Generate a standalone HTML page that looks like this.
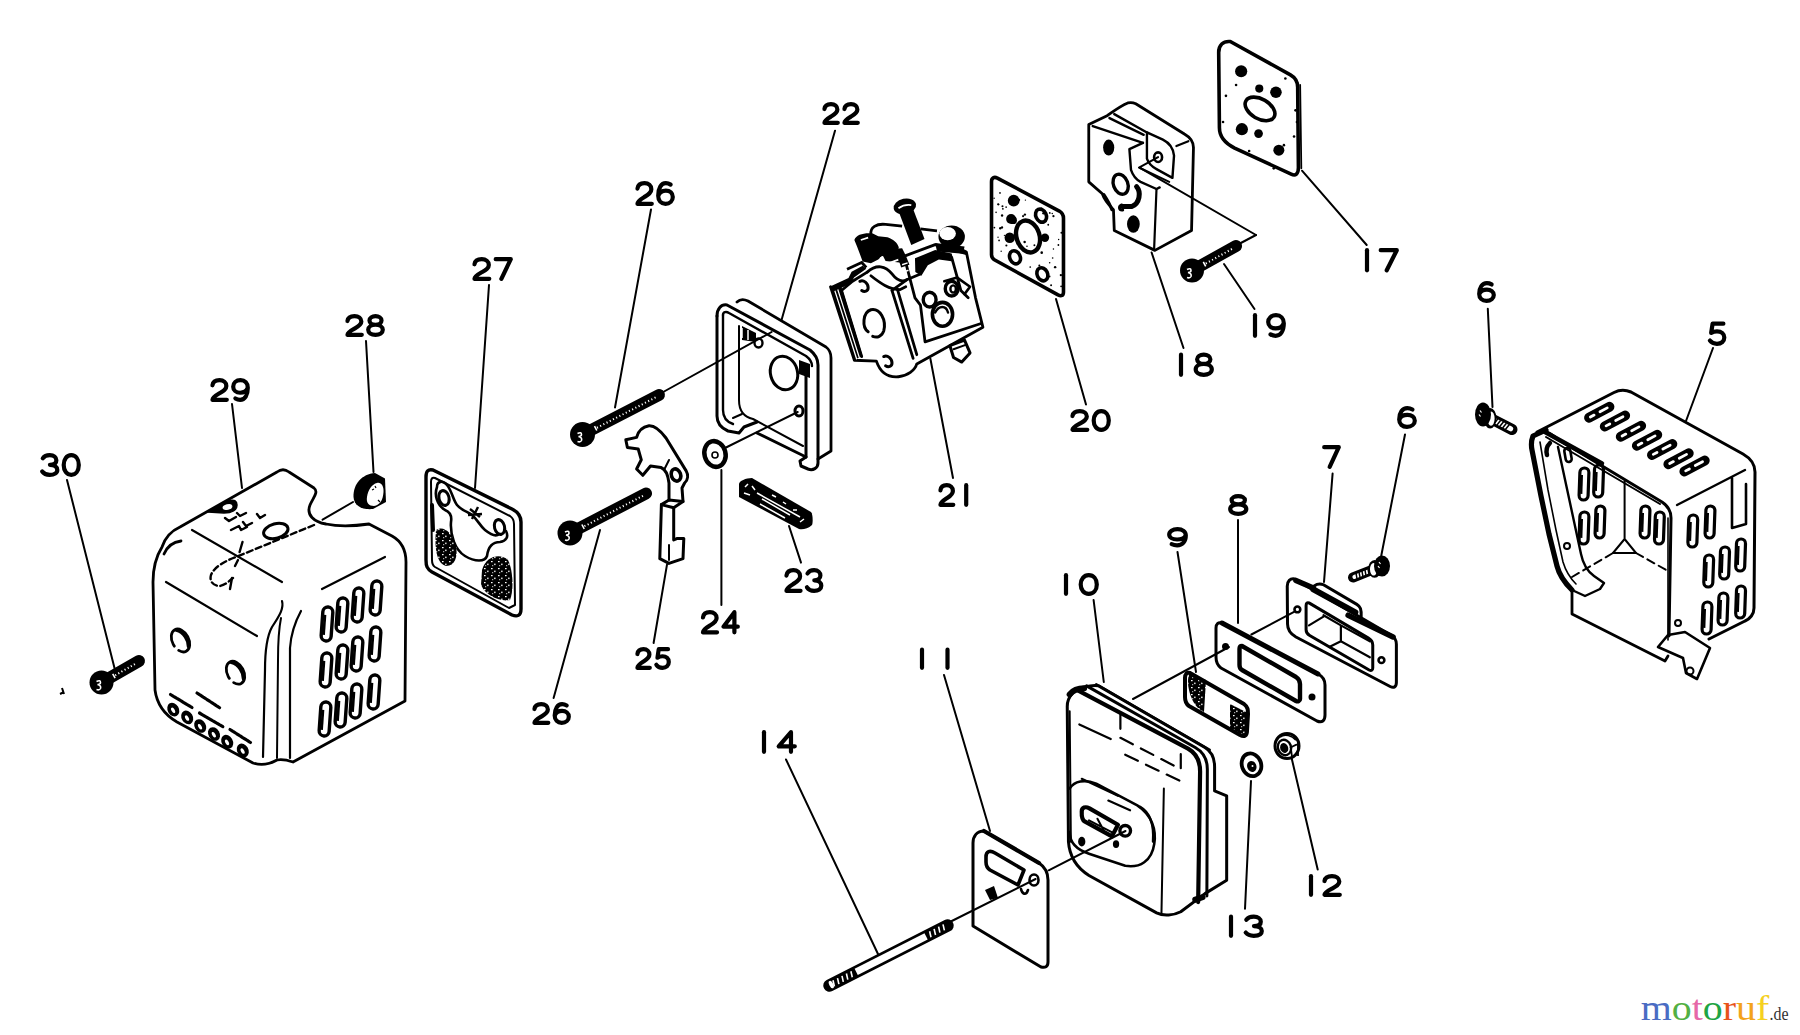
<!DOCTYPE html>
<html><head><meta charset="utf-8"><style>
html,body{margin:0;padding:0;background:#fff;}
svg{display:block;}
.wm{font-family:"Liberation Serif",serif;}
.ns path,.ns ellipse,.ns circle,.ns line,.ns rect{vector-effect:non-scaling-stroke;}
</style></head><body>
<svg width="1800" height="1035" viewBox="0 0 1800 1035">
<rect width="1800" height="1035" fill="#fff"/>
<g fill="none" stroke="#000" stroke-width="4.2" stroke-linecap="round" stroke-linejoin="round"><path transform="translate(42.20,455.20) scale(0.9437,0.9800)" vector-effect="non-scaling-stroke" d="M0.6,3.2 C2,1.2 4.6,0 8,0 C12.4,0 15,2.2 15,5.2 C15,8.2 12.2,9.8 8.2,9.8 C13,9.8 16,12 16,15 C16,18.2 12.8,20 8,20 C4.4,20 1.6,18.8 0,16.6" /><path transform="translate(63.70,455.20) scale(0.9437,0.9800)" vector-effect="non-scaling-stroke" d="M8,0 C12.8,0 16,4.2 16,10 C16,15.8 12.8,20 8,20 C3.2,20 0,15.8 0,10 C0,4.2 3.2,0 8,0 Z" /><path transform="translate(212.20,380.20) scale(0.9125,0.9800)" vector-effect="non-scaling-stroke" d="M0.3,5.2 C0.8,2 3.8,0 8,0 C12.5,0 15.5,2.4 15.5,5.8 C15.5,9.6 11.5,11.4 7.5,13.6 C3,16 0.5,17.6 0.3,20 L16,20" /><path transform="translate(233.20,380.20) scale(0.9125,0.9800)" vector-effect="non-scaling-stroke" d="M2.4,18.6 C4,19.5 5.8,20 7.6,20 C12.8,20 16,15.2 16,7.8 C16,3 12.8,0 8,0 C3.2,0 0,3 0,6.6 C0,10.2 3.2,12.8 7.6,12.8 C11.6,12.8 14.8,10.6 15.8,8" /><path transform="translate(347.20,316.20) scale(0.9125,0.9300)" vector-effect="non-scaling-stroke" d="M0.3,5.2 C0.8,2 3.8,0 8,0 C12.5,0 15.5,2.4 15.5,5.8 C15.5,9.6 11.5,11.4 7.5,13.6 C3,16 0.5,17.6 0.3,20 L16,20" /><path transform="translate(368.20,316.20) scale(0.9125,0.9300)" vector-effect="non-scaling-stroke" d="M8,9.2 C4.2,9.2 1.4,7.4 1.4,4.6 C1.4,1.8 4.2,0 8,0 C11.8,0 14.6,1.8 14.6,4.6 C14.6,7.4 11.8,9.2 8,9.2 C3.4,9.2 0,11.4 0,14.6 C0,17.8 3.4,20 8,20 C12.6,20 16,17.8 16,14.6 C16,11.4 12.6,9.2 8,9.2 Z" /><path transform="translate(474.20,259.20) scale(0.9437,0.9800)" vector-effect="non-scaling-stroke" d="M0.3,5.2 C0.8,2 3.8,0 8,0 C12.5,0 15.5,2.4 15.5,5.8 C15.5,9.6 11.5,11.4 7.5,13.6 C3,16 0.5,17.6 0.3,20 L16,20" /><path transform="translate(495.70,259.20) scale(0.9437,0.9800)" vector-effect="non-scaling-stroke" d="M0,0 L16,0 L6,20" /><path transform="translate(637.20,183.20) scale(0.9125,1.0300)" vector-effect="non-scaling-stroke" d="M0.3,5.2 C0.8,2 3.8,0 8,0 C12.5,0 15.5,2.4 15.5,5.8 C15.5,9.6 11.5,11.4 7.5,13.6 C3,16 0.5,17.6 0.3,20 L16,20" /><path transform="translate(658.20,183.20) scale(0.9125,1.0300)" vector-effect="non-scaling-stroke" d="M13.6,1.4 C12,0.5 10.2,0 8.4,0 C3.2,0 0,4.8 0,12.2 C0,17 3.2,20 8,20 C12.8,20 16,17 16,13.4 C16,9.8 12.8,7.2 8.4,7.2 C4.4,7.2 1.2,9.4 0.2,12" /><path transform="translate(534.20,704.20) scale(0.8812,0.9300)" vector-effect="non-scaling-stroke" d="M0.3,5.2 C0.8,2 3.8,0 8,0 C12.5,0 15.5,2.4 15.5,5.8 C15.5,9.6 11.5,11.4 7.5,13.6 C3,16 0.5,17.6 0.3,20 L16,20" /><path transform="translate(554.70,704.20) scale(0.8812,0.9300)" vector-effect="non-scaling-stroke" d="M13.6,1.4 C12,0.5 10.2,0 8.4,0 C3.2,0 0,4.8 0,12.2 C0,17 3.2,20 8,20 C12.8,20 16,17 16,13.4 C16,9.8 12.8,7.2 8.4,7.2 C4.4,7.2 1.2,9.4 0.2,12" /><path transform="translate(637.20,649.20) scale(0.7875,0.9300)" vector-effect="non-scaling-stroke" d="M0.3,5.2 C0.8,2 3.8,0 8,0 C12.5,0 15.5,2.4 15.5,5.8 C15.5,9.6 11.5,11.4 7.5,13.6 C3,16 0.5,17.6 0.3,20 L16,20" /><path transform="translate(656.20,649.20) scale(0.7875,0.9300)" vector-effect="non-scaling-stroke" d="M15,0 L3.2,0 L1.6,9.2 C3.4,8.2 5.6,7.6 8,7.6 C12.8,7.6 16,10 16,13.8 C16,17.6 12.8,20 8,20 C4.6,20 1.8,18.8 0.2,16.8" /><path transform="translate(702.70,612.20) scale(0.8969,1.0050)" vector-effect="non-scaling-stroke" d="M0.3,5.2 C0.8,2 3.8,0 8,0 C12.5,0 15.5,2.4 15.5,5.8 C15.5,9.6 11.5,11.4 7.5,13.6 C3,16 0.5,17.6 0.3,20 L16,20" /><path transform="translate(723.45,612.20) scale(0.8969,1.0050)" vector-effect="non-scaling-stroke" d="M12.2,20 L12.2,0 L0,14.4 L16,14.4" /><path transform="translate(786.20,570.20) scale(0.8969,1.0300)" vector-effect="non-scaling-stroke" d="M0.3,5.2 C0.8,2 3.8,0 8,0 C12.5,0 15.5,2.4 15.5,5.8 C15.5,9.6 11.5,11.4 7.5,13.6 C3,16 0.5,17.6 0.3,20 L16,20" /><path transform="translate(806.95,570.20) scale(0.8969,1.0300)" vector-effect="non-scaling-stroke" d="M0.6,3.2 C2,1.2 4.6,0 8,0 C12.4,0 15,2.2 15,5.2 C15,8.2 12.2,9.8 8.2,9.8 C13,9.8 16,12 16,15 C16,18.2 12.8,20 8,20 C4.4,20 1.6,18.8 0,16.6" /><path transform="translate(824.20,104.20) scale(0.8500,0.9300)" vector-effect="non-scaling-stroke" d="M0.3,5.2 C0.8,2 3.8,0 8,0 C12.5,0 15.5,2.4 15.5,5.8 C15.5,9.6 11.5,11.4 7.5,13.6 C3,16 0.5,17.6 0.3,20 L16,20" /><path transform="translate(844.20,104.20) scale(0.8500,0.9300)" vector-effect="non-scaling-stroke" d="M0.3,5.2 C0.8,2 3.8,0 8,0 C12.5,0 15.5,2.4 15.5,5.8 C15.5,9.6 11.5,11.4 7.5,13.6 C3,16 0.5,17.6 0.3,20 L16,20" /><path transform="translate(940.20,485.20) scale(0.8187,0.9800)" vector-effect="non-scaling-stroke" d="M0.3,5.2 C0.8,2 3.8,0 8,0 C12.5,0 15.5,2.4 15.5,5.8 C15.5,9.6 11.5,11.4 7.5,13.6 C3,16 0.5,17.6 0.3,20 L16,20" /><path d="M966.2,485.2 L966.2,504.8" /><path transform="translate(1072.20,411.20) scale(0.9437,0.9300)" vector-effect="non-scaling-stroke" d="M0.3,5.2 C0.8,2 3.8,0 8,0 C12.5,0 15.5,2.4 15.5,5.8 C15.5,9.6 11.5,11.4 7.5,13.6 C3,16 0.5,17.6 0.3,20 L16,20" /><path transform="translate(1093.70,411.20) scale(0.9437,0.9300)" vector-effect="non-scaling-stroke" d="M8,0 C12.8,0 16,4.2 16,10 C16,15.8 12.8,20 8,20 C3.2,20 0,15.8 0,10 C0,4.2 3.2,0 8,0 Z" /><path d="M1181.0,354.7 L1181.0,374.8" /><path transform="translate(1195.70,354.70) scale(1.0063,1.0050)" vector-effect="non-scaling-stroke" d="M8,9.2 C4.2,9.2 1.4,7.4 1.4,4.6 C1.4,1.8 4.2,0 8,0 C11.8,0 14.6,1.8 14.6,4.6 C14.6,7.4 11.8,9.2 8,9.2 C3.4,9.2 0,11.4 0,14.6 C0,17.8 3.4,20 8,20 C12.6,20 16,17.8 16,14.6 C16,11.4 12.6,9.2 8,9.2 Z" /><path d="M1255.0,315.2 L1255.0,335.8" /><path transform="translate(1268.20,315.20) scale(0.9750,1.0300)" vector-effect="non-scaling-stroke" d="M2.4,18.6 C4,19.5 5.8,20 7.6,20 C12.8,20 16,15.2 16,7.8 C16,3 12.8,0 8,0 C3.2,0 0,3 0,6.6 C0,10.2 3.2,12.8 7.6,12.8 C11.6,12.8 14.8,10.6 15.8,8" /><path d="M1367.0,250.2 L1367.0,270.3" /><path transform="translate(1380.70,250.20) scale(1.0063,1.0050)" vector-effect="non-scaling-stroke" d="M0,0 L16,0 L6,20" /><path transform="translate(1479.20,283.20) scale(0.9125,0.8800)" vector-effect="non-scaling-stroke" d="M13.6,1.4 C12,0.5 10.2,0 8.4,0 C3.2,0 0,4.8 0,12.2 C0,17 3.2,20 8,20 C12.8,20 16,17 16,13.4 C16,9.8 12.8,7.2 8.4,7.2 C4.4,7.2 1.2,9.4 0.2,12" /><path transform="translate(1709.70,323.70) scale(0.9125,1.0050)" vector-effect="non-scaling-stroke" d="M15,0 L3.2,0 L1.6,9.2 C3.4,8.2 5.6,7.6 8,7.6 C12.8,7.6 16,10 16,13.8 C16,17.6 12.8,20 8,20 C4.6,20 1.8,18.8 0.2,16.8" /><path transform="translate(1399.20,408.20) scale(0.9750,0.9300)" vector-effect="non-scaling-stroke" d="M13.6,1.4 C12,0.5 10.2,0 8.4,0 C3.2,0 0,4.8 0,12.2 C0,17 3.2,20 8,20 C12.8,20 16,17 16,13.4 C16,9.8 12.8,7.2 8.4,7.2 C4.4,7.2 1.2,9.4 0.2,12" /><path transform="translate(1324.20,447.20) scale(0.9125,0.9800)" vector-effect="non-scaling-stroke" d="M0,0 L16,0 L6,20" /><path transform="translate(1230.20,496.20) scale(1.0063,0.8800)" vector-effect="non-scaling-stroke" d="M8,9.2 C4.2,9.2 1.4,7.4 1.4,4.6 C1.4,1.8 4.2,0 8,0 C11.8,0 14.6,1.8 14.6,4.6 C14.6,7.4 11.8,9.2 8,9.2 C3.4,9.2 0,11.4 0,14.6 C0,17.8 3.4,20 8,20 C12.6,20 16,17.8 16,14.6 C16,11.4 12.6,9.2 8,9.2 Z" /><path transform="translate(1169.20,529.20) scale(1.0375,0.8050)" vector-effect="non-scaling-stroke" d="M2.4,18.6 C4,19.5 5.8,20 7.6,20 C12.8,20 16,15.2 16,7.8 C16,3 12.8,0 8,0 C3.2,0 0,3 0,6.6 C0,10.2 3.2,12.8 7.6,12.8 C11.6,12.8 14.8,10.6 15.8,8" /><path d="M1066.0,575.2 L1066.0,593.8" /><path transform="translate(1080.70,575.20) scale(1.0063,0.9300)" vector-effect="non-scaling-stroke" d="M8,0 C12.8,0 16,4.2 16,10 C16,15.8 12.8,20 8,20 C3.2,20 0,15.8 0,10 C0,4.2 3.2,0 8,0 Z" /><path d="M922.0,649.7 L922.0,667.8" /><path d="M947.5,649.7 L947.5,667.8" /><path d="M764.0,732.2 L764.0,751.8" /><path transform="translate(778.70,732.20) scale(1.0063,0.9800)" vector-effect="non-scaling-stroke" d="M12.2,20 L12.2,0 L0,14.4 L16,14.4" /><path d="M1311.0,876.2 L1311.0,894.8" /><path transform="translate(1324.20,876.20) scale(0.9750,0.9300)" vector-effect="non-scaling-stroke" d="M0.3,5.2 C0.8,2 3.8,0 8,0 C12.5,0 15.5,2.4 15.5,5.8 C15.5,9.6 11.5,11.4 7.5,13.6 C3,16 0.5,17.6 0.3,20 L16,20" /><path d="M1231.0,916.7 L1231.0,935.8" /><path transform="translate(1245.70,916.70) scale(1.0063,0.9550)" vector-effect="non-scaling-stroke" d="M0.6,3.2 C2,1.2 4.6,0 8,0 C12.4,0 15,2.2 15,5.2 C15,8.2 12.2,9.8 8.2,9.8 C13,9.8 16,12 16,15 C16,18.2 12.8,20 8,20 C4.4,20 1.6,18.8 0,16.6" /></g><g fill="none" stroke="#000" stroke-width="2" stroke-linecap="round"><line x1="67" y1="480" x2="115" y2="670"/><line x1="232" y1="404" x2="242" y2="488"/><line x1="366" y1="341" x2="373.5" y2="472"/><line x1="489" y1="285" x2="475" y2="488"/><line x1="651" y1="209.5" x2="615" y2="407.5"/><line x1="600" y1="530" x2="553.6" y2="698"/><line x1="667" y1="564.6" x2="653.6" y2="643"/><line x1="721.4" y1="470" x2="721.4" y2="605"/><line x1="789" y1="526" x2="801" y2="562.6"/><line x1="835" y1="130.7" x2="781.4" y2="320.6"/><line x1="930.4" y1="358.7" x2="953" y2="478"/><line x1="1056" y1="299" x2="1086" y2="404.6"/><line x1="1151.6" y1="252.5" x2="1183.5" y2="348"/><line x1="1224" y1="264" x2="1254.5" y2="309"/><line x1="1302" y1="170.7" x2="1366.7" y2="245"/><line x1="1487.8" y1="308.7" x2="1492.5" y2="407"/><line x1="1713" y1="348" x2="1686" y2="421"/><line x1="1405" y1="434.5" x2="1381" y2="557"/><line x1="1332.6" y1="473.6" x2="1324" y2="582"/><line x1="1238" y1="520" x2="1238" y2="623"/><line x1="1177.5" y1="552" x2="1196" y2="672"/><line x1="1093.6" y1="600" x2="1103.8" y2="682"/><line x1="944" y1="675" x2="990" y2="831"/><line x1="786" y1="759.5" x2="878" y2="954"/><line x1="1291.6" y1="758" x2="1317.7" y2="869.6"/><line x1="1251" y1="781" x2="1245" y2="908.7"/></g><g fill="none" stroke="#000" stroke-width="2" stroke-linecap="round"><line x1="353" y1="502" x2="322.6" y2="519.7"/><line x1="661.4" y1="393" x2="771.6" y2="332"/><line x1="725" y1="448" x2="797.7" y2="412"/><line x1="1237" y1="245" x2="1256" y2="235"/><line x1="1256" y1="235" x2="1140" y2="167.8"/><line x1="1133" y1="699" x2="1229" y2="647"/><line x1="1251.4" y1="634.5" x2="1295" y2="611.3"/><line x1="1048.7" y1="870.3" x2="1125.5" y2="831"/><line x1="945.8" y1="924" x2="1035.6" y2="879"/></g><g fill="none" stroke="#000" stroke-linecap="round" stroke-linejoin="round" stroke-width="2.8"><path d="M162,547 C165,538 171,531 180,527 L277,472 C281,469 285,469 289,472 L314,488 C319,492 313,498 310,505 C306,515 314,522 326,524 C340,527 355,526 369,524 L392,536 C401,541 406,550 406,562 L405,701 L293,762 C287,760 282,759 277,760 C270,764 262,766 253,763 L177,722 C165,715 157,705 155,690 L153,582 C153,566 157,555 162,547 Z"/><path d="M164,554 C167,547 173,542 181,541" /><path d="M192,530 L282,582" stroke-width="2.2"/><path d="M166,582 L257,636" stroke-width="2.2"/><path d="M322,589 L385,557" stroke-width="2.2"/><path d="M282,601 C284,608 280,615 272,627 C267,636 265,650 265,670 L263,757" stroke-width="2.2"/><path d="M301,611 C295,622 291,633 290,648 L290,758" stroke-width="2.2"/><path d="M281,618 C279,628 278,640 278,660 L277,758" stroke-width="2"/><path d="M208,512 L229,501 C234,499 237,501 237,505 C237,510 232,513 224,513 Z" fill="#000" stroke-width="1.5"/><ellipse cx="227.5" cy="507" rx="5" ry="2.8" transform="rotate(-15 227.5 507)" fill="#fff" stroke="none"/><ellipse cx="275.8" cy="531" rx="12.5" ry="7.2" transform="rotate(-15 275.8 531)" stroke-width="3"/><path d="M314,525 L236,557 C225,561 214,567 211,575 C209,582 214,586 220,586 C226,585 230,580 233,578" stroke-width="2.4" stroke-dasharray="6,3.5"/><path d="M232,578 L230,589" stroke-width="2.4"/><path d="M242.5,542 L239.6,552 M238,560 L235,566" stroke-width="2.4"/><path d="M225,518 l4,3 l7,-4 M237,513 l3,3 l6,-3 M231,530 l8,-4 l2,4 l6,-3 M243,522 l3,4 l6,-3 M257,514 l3,4 l5,-3" stroke-width="2.4"/><g transform="rotate(-28 180.5 640.5)"><ellipse cx="180.5" cy="640.5" rx="8.2" ry="12.2" stroke-width="2.8" stroke-dasharray="24,6,50"/><path d="M181.5,629.5 C187.5,634.5 187.5,644.5 184.5,649.5" stroke-width="3"/></g><g transform="rotate(-28 235.5 672.7)"><ellipse cx="235.5" cy="672.7" rx="8.2" ry="12.2" stroke-width="2.8" stroke-dasharray="24,6,50"/><path d="M236.5,661.7 C242.5,666.7 242.5,676.7 239.5,681.7" stroke-width="3"/></g><ellipse cx="173.3" cy="709.6" rx="5.6" ry="7.2" transform="rotate(-30 173.3 709.6)" fill="#000" stroke="none"/><ellipse cx="172.8" cy="710.1" rx="1.6" ry="3" transform="rotate(-30 173.3 709.6)" fill="#fff" stroke="none"/><ellipse cx="187.2" cy="717.4" rx="5.6" ry="7.2" transform="rotate(-30 187.2 717.4)" fill="#000" stroke="none"/><ellipse cx="186.7" cy="717.9" rx="1.6" ry="3" transform="rotate(-30 187.2 717.4)" fill="#fff" stroke="none"/><ellipse cx="200.2" cy="726" rx="5.6" ry="7.2" transform="rotate(-30 200.2 726)" fill="#000" stroke="none"/><ellipse cx="199.7" cy="726.5" rx="1.6" ry="3" transform="rotate(-30 200.2 726)" fill="#fff" stroke="none"/><ellipse cx="214" cy="734" rx="5.6" ry="7.2" transform="rotate(-30 214 734)" fill="#000" stroke="none"/><ellipse cx="213.5" cy="734.5" rx="1.6" ry="3" transform="rotate(-30 214 734)" fill="#fff" stroke="none"/><ellipse cx="227.2" cy="741.7" rx="5.6" ry="7.2" transform="rotate(-30 227.2 741.7)" fill="#000" stroke="none"/><ellipse cx="226.7" cy="742.2" rx="1.6" ry="3" transform="rotate(-30 227.2 741.7)" fill="#fff" stroke="none"/><ellipse cx="242.8" cy="750.4" rx="5.6" ry="7.2" transform="rotate(-30 242.8 750.4)" fill="#000" stroke="none"/><ellipse cx="242.3" cy="750.9" rx="1.6" ry="3" transform="rotate(-30 242.8 750.4)" fill="#fff" stroke="none"/><path d="M170.5,694.5 L192,707.5 M197,693 L220,708 M199.5,713 L223.5,727 M230,729.5 L250.5,742.5" stroke-width="3.2" stroke-dasharray="3,1"/></g><rect x="322" y="607" width="10" height="34" rx="5" fill="none" stroke="#000" stroke-width="3.4" transform="rotate(4 327 624)"/><path d="M324.4,615 L324.4,635" stroke="#000" stroke-width="2.6" transform="rotate(4 327 624)"/><rect x="337" y="598" width="10" height="34" rx="5" fill="none" stroke="#000" stroke-width="3.4" transform="rotate(4 342 615)"/><path d="M339.4,606 L339.4,626" stroke="#000" stroke-width="2.6" transform="rotate(4 342 615)"/><rect x="353" y="588" width="10" height="34" rx="5" fill="none" stroke="#000" stroke-width="3.4" transform="rotate(4 358 605)"/><path d="M355.4,596 L355.4,616" stroke="#000" stroke-width="2.6" transform="rotate(4 358 605)"/><rect x="371" y="581" width="10" height="34" rx="5" fill="none" stroke="#000" stroke-width="3.4" transform="rotate(4 376 598)"/><path d="M373.4,589 L373.4,609" stroke="#000" stroke-width="2.6" transform="rotate(4 376 598)"/><rect x="321" y="653" width="10" height="34" rx="5" fill="none" stroke="#000" stroke-width="3.4" transform="rotate(4 326 670)"/><path d="M323.4,661 L323.4,681" stroke="#000" stroke-width="2.6" transform="rotate(4 326 670)"/><rect x="337" y="645" width="10" height="34" rx="5" fill="none" stroke="#000" stroke-width="3.4" transform="rotate(4 342 662)"/><path d="M339.4,653 L339.4,673" stroke="#000" stroke-width="2.6" transform="rotate(4 342 662)"/><rect x="352" y="637" width="10" height="34" rx="5" fill="none" stroke="#000" stroke-width="3.4" transform="rotate(4 357 654)"/><path d="M354.4,645 L354.4,665" stroke="#000" stroke-width="2.6" transform="rotate(4 357 654)"/><rect x="370" y="627" width="10" height="34" rx="5" fill="none" stroke="#000" stroke-width="3.4" transform="rotate(4 375 644)"/><path d="M372.4,635 L372.4,655" stroke="#000" stroke-width="2.6" transform="rotate(4 375 644)"/><rect x="320" y="702" width="10" height="34" rx="5" fill="none" stroke="#000" stroke-width="3.4" transform="rotate(4 325 719)"/><path d="M322.4,710 L322.4,730" stroke="#000" stroke-width="2.6" transform="rotate(4 325 719)"/><rect x="336" y="693" width="10" height="34" rx="5" fill="none" stroke="#000" stroke-width="3.4" transform="rotate(4 341 710)"/><path d="M338.4,701 L338.4,721" stroke="#000" stroke-width="2.6" transform="rotate(4 341 710)"/><rect x="351" y="684" width="10" height="34" rx="5" fill="none" stroke="#000" stroke-width="3.4" transform="rotate(4 356 701)"/><path d="M353.4,692 L353.4,712" stroke="#000" stroke-width="2.6" transform="rotate(4 356 701)"/><rect x="369" y="675" width="10" height="34" rx="5" fill="none" stroke="#000" stroke-width="3.4" transform="rotate(4 374 692)"/><path d="M371.4,683 L371.4,703" stroke="#000" stroke-width="2.6" transform="rotate(4 374 692)"/><line x1="101.5" y1="682.5" x2="139.0" y2="661.0" stroke="#000" stroke-width="12" stroke-linecap="round"/><line x1="116.2" y1="675.9" x2="115.2" y2="674.2" stroke="#fff" stroke-width="1.1"/><line x1="119.3" y1="674.1" x2="118.3" y2="672.4" stroke="#fff" stroke-width="1.1"/><line x1="122.4" y1="672.3" x2="121.4" y2="670.6" stroke="#fff" stroke-width="1.1"/><line x1="125.5" y1="670.6" x2="124.6" y2="668.8" stroke="#fff" stroke-width="1.1"/><line x1="128.7" y1="668.8" x2="127.7" y2="667.0" stroke="#fff" stroke-width="1.1"/><line x1="131.8" y1="667.0" x2="130.8" y2="665.2" stroke="#fff" stroke-width="1.1"/><line x1="134.9" y1="665.2" x2="133.9" y2="663.5" stroke="#fff" stroke-width="1.1"/><circle cx="101.5" cy="682.5" r="12" fill="#000"/><path d="M96.5,681.5 q4,-2 4,1 q0,2 -3,2 q4,1 3,4 q-1,2 -4,1" fill="none" stroke="#fff" stroke-width="1.6"/><line x1="115.1" y1="678.1" x2="112.7" y2="673.8" stroke="#fff" stroke-width="1.6"/><path d="M62,688 l2,6 M60,694 l4,-2" stroke="#000" stroke-width="2"/><path d="M353.5,497 C353,484 362,474 375,473 L385,478.5 L386,502 L373,509 C362,510 354,506 353.5,497 Z" fill="#000"/><path d="M377,483 C381,482 384,486 383.5,492 C383,500 380,505 374,506 C369,506 366,503 367,497 C368,490 372,484 377,483 Z" fill="#fff"/><path d="M372,490 l2,-1 M378,500 l2,2 M375,486 l1,2" stroke="#000" stroke-width="1.2"/><defs><pattern id="stip" width="7" height="7" patternUnits="userSpaceOnUse"><rect width="7" height="7" fill="#000"/><rect x="1" y="1" width="1.6" height="1.2" fill="#fff"/><rect x="4.2" y="3.6" width="1.3" height="1.5" fill="#fff"/><rect x="2.2" y="5.2" width="1" height="1" fill="#fff"/></pattern><pattern id="stip2" width="9" height="9" patternUnits="userSpaceOnUse"><rect width="9" height="9" fill="#fff"/><circle cx="2" cy="2" r="0.9" fill="#000"/><circle cx="6" cy="5" r="0.8" fill="#000"/><circle cx="3.5" cy="7.5" r="0.7" fill="#000"/><circle cx="7.5" cy="1" r="0.6" fill="#000"/></pattern></defs><g fill="none" stroke="#000" stroke-linecap="round" stroke-linejoin="round"><path d="M433,470 L512,509 C518,512 521,516 521,522 L521,609 C521,616 517,617 512,615 L432,572 C427,569 426,566 426,560 L426,477 C426,471 428,469 433,470 Z" stroke-width="3.4"/><path d="M435,478 L510,516 C513,518 514,520 514,524 L515,605 L509,608 L435,567 C432,565 432,563 432,560 L431,482 C431,479 432,477 435,478 Z" stroke-width="2"/><path d="M437,487 C437,481 443,480 447,485 C452,491 453,500 457,505 C461,510 468,512 472,515 C478,520 480,526 485,530 C490,534 496,537 499,534 M437,487 C434,495 437,505 445,510 C450,512 452,516 451,522 C450,535 455,550 465,556 C475,562 485,562 487,556 C488,548 492,542 500,542 C506,541 509,537 506,531" stroke-width="2.6"/><ellipse cx="444" cy="498" rx="5" ry="7.5" transform="rotate(-15 444 498)" stroke-width="3"/><ellipse cx="499.5" cy="527" rx="5" ry="7.5" transform="rotate(-15 499.5 527)" stroke-width="3"/><path d="M432,505 L433,530" stroke-width="4"/></g><path d="M436,530 C443,525 452,532 456,545 C458,557 455,566 446,566 C438,564 434,552 436,530 Z" fill="url(#stip)"/><path d="M482,570 C486,556 500,553 508,560 C513,570 514,590 510,600 C500,602 486,596 481,585 Z" fill="url(#stip)"/><path d="M470,509 l10,8 M478,507 l-6,12 M468,515 l14,-1" stroke="#000" stroke-width="2.4"/><line x1="582.5" y1="434.5" x2="659.0" y2="395.0" stroke="#000" stroke-width="12" stroke-linecap="round"/><line x1="597.9" y1="428.4" x2="597.0" y2="426.6" stroke="#fff" stroke-width="1.1"/><line x1="601.1" y1="426.7" x2="600.2" y2="424.9" stroke="#fff" stroke-width="1.1"/><line x1="604.3" y1="425.0" x2="603.4" y2="423.3" stroke="#fff" stroke-width="1.1"/><line x1="607.5" y1="423.4" x2="606.6" y2="421.6" stroke="#fff" stroke-width="1.1"/><line x1="610.7" y1="421.7" x2="609.8" y2="420.0" stroke="#fff" stroke-width="1.1"/><line x1="613.9" y1="420.1" x2="613.0" y2="418.3" stroke="#fff" stroke-width="1.1"/><line x1="617.1" y1="418.4" x2="616.2" y2="416.7" stroke="#fff" stroke-width="1.1"/><line x1="620.3" y1="416.8" x2="619.4" y2="415.0" stroke="#fff" stroke-width="1.1"/><line x1="623.5" y1="415.1" x2="622.6" y2="413.4" stroke="#fff" stroke-width="1.1"/><line x1="626.7" y1="413.5" x2="625.8" y2="411.7" stroke="#fff" stroke-width="1.1"/><line x1="629.9" y1="411.8" x2="629.0" y2="410.1" stroke="#fff" stroke-width="1.1"/><line x1="633.1" y1="410.2" x2="632.2" y2="408.4" stroke="#fff" stroke-width="1.1"/><line x1="636.3" y1="408.5" x2="635.4" y2="406.8" stroke="#fff" stroke-width="1.1"/><line x1="639.5" y1="406.9" x2="638.6" y2="405.1" stroke="#fff" stroke-width="1.1"/><line x1="642.7" y1="405.2" x2="641.8" y2="403.5" stroke="#fff" stroke-width="1.1"/><line x1="645.9" y1="403.6" x2="645.0" y2="401.8" stroke="#fff" stroke-width="1.1"/><line x1="649.1" y1="401.9" x2="648.2" y2="400.1" stroke="#fff" stroke-width="1.1"/><line x1="652.3" y1="400.3" x2="651.4" y2="398.5" stroke="#fff" stroke-width="1.1"/><line x1="655.5" y1="398.6" x2="654.6" y2="396.8" stroke="#fff" stroke-width="1.1"/><circle cx="582.5" cy="434.5" r="12.5" fill="#000"/><path d="M577.5,433.5 q4,-2 4,1 q0,2 -3,2 q4,1 3,4 q-1,2 -4,1" fill="none" stroke="#fff" stroke-width="1.6"/><line x1="596.8" y1="430.5" x2="594.5" y2="426.1" stroke="#fff" stroke-width="1.6"/><line x1="570.0" y1="533.0" x2="646.0" y2="493.5" stroke="#000" stroke-width="12" stroke-linecap="round"/><line x1="585.4" y1="526.8" x2="584.5" y2="525.0" stroke="#fff" stroke-width="1.1"/><line x1="588.6" y1="525.2" x2="587.7" y2="523.4" stroke="#fff" stroke-width="1.1"/><line x1="591.8" y1="523.5" x2="590.8" y2="521.7" stroke="#fff" stroke-width="1.1"/><line x1="595.0" y1="521.8" x2="594.0" y2="520.1" stroke="#fff" stroke-width="1.1"/><line x1="598.2" y1="520.2" x2="597.2" y2="518.4" stroke="#fff" stroke-width="1.1"/><line x1="601.4" y1="518.5" x2="600.4" y2="516.7" stroke="#fff" stroke-width="1.1"/><line x1="604.5" y1="516.8" x2="603.6" y2="515.1" stroke="#fff" stroke-width="1.1"/><line x1="607.7" y1="515.2" x2="606.8" y2="513.4" stroke="#fff" stroke-width="1.1"/><line x1="610.9" y1="513.5" x2="610.0" y2="511.8" stroke="#fff" stroke-width="1.1"/><line x1="614.1" y1="511.9" x2="613.2" y2="510.1" stroke="#fff" stroke-width="1.1"/><line x1="617.3" y1="510.2" x2="616.4" y2="508.4" stroke="#fff" stroke-width="1.1"/><line x1="620.5" y1="508.5" x2="619.6" y2="506.8" stroke="#fff" stroke-width="1.1"/><line x1="623.7" y1="506.9" x2="622.8" y2="505.1" stroke="#fff" stroke-width="1.1"/><line x1="626.9" y1="505.2" x2="626.0" y2="503.5" stroke="#fff" stroke-width="1.1"/><line x1="630.1" y1="503.6" x2="629.2" y2="501.8" stroke="#fff" stroke-width="1.1"/><line x1="633.3" y1="501.9" x2="632.4" y2="500.1" stroke="#fff" stroke-width="1.1"/><line x1="636.5" y1="500.2" x2="635.6" y2="498.5" stroke="#fff" stroke-width="1.1"/><line x1="639.7" y1="498.6" x2="638.8" y2="496.8" stroke="#fff" stroke-width="1.1"/><line x1="642.9" y1="496.9" x2="642.0" y2="495.2" stroke="#fff" stroke-width="1.1"/><circle cx="570" cy="533" r="12.5" fill="#000"/><path d="M565,532 q4,-2 4,1 q0,2 -3,2 q4,1 3,4 q-1,2 -4,1" fill="none" stroke="#fff" stroke-width="1.6"/><line x1="584.2" y1="529.0" x2="581.9" y2="524.5" stroke="#fff" stroke-width="1.6"/><g fill="none" stroke="#000" stroke-linecap="round" stroke-linejoin="round" stroke-width="3"><path d="M669,500 L669,483 C668,475 665,469 661,467.5 L650.5,466 L642.8,475.3 L636.6,469 L641.3,459.8 L638.2,449 L627.4,447.5 L625.8,439.7 L636.6,437.4 C638,432 642,427 649,425.8 C654,425.5 660,430 666,438 L686,470.6 C688.5,475 688,480 684.6,483 L682,488 L683,501.6" fill="#fff"/><path d="M661.4,504.6 L669,500 L683,501.6 L673.7,507.7 Z"/><path d="M661.4,504.6 L659.8,558.7 L669,563.4 L683,558.7 L683.8,538.6 L676.8,538.6 L673.7,540 L673.7,507.7"/><path d="M669,560 L669,545" stroke-width="2"/><path d="M669,460 L664,470" stroke-width="2"/><ellipse cx="676" cy="475" rx="4.6" ry="6.3" transform="rotate(-20 676 475)" stroke-width="3.6"/></g><ellipse cx="715" cy="454" rx="10.5" ry="13" transform="rotate(-15 715 454)" fill="none" stroke="#000" stroke-width="4.5"/><circle cx="715" cy="455" r="3" fill="none" stroke="#000" stroke-width="1.6"/><path d="M739,484 C739,481 746,478 752,478 L811,512 C813,514 813,523 812,525 C808,529 802,530 799,529 L739,497 Z" fill="#000"/><path d="M745,487 L748,484 M752,486 L755,490 M744,493 L750,495 M757,493 L800,517 M762,499 L790,515 M772,495 L776,497 M783,502 L786,504 M793,510 L797,510 M760,504 L785,518 M800,522 L804,519" stroke="#fff" stroke-width="1.5"/><g fill="none" stroke="#000" stroke-linecap="round" stroke-linejoin="round"><path d="M737,302 C740,299 744,299 748,301 L826,347 C830,350 831,353 831,358 L831,451 L818,459" stroke-width="2.8"/><path d="M717,316 C717,309 721,304 727,305 L810,350 C815,354 818,359 818,365 L818,463 C818,468 813,471 808,469 L801,466 L800,461 L806,457 L806,365" stroke-width="3"/><path d="M717,316 L717,416 C717,423 721,428 728,431 L739,433 L744,427 L757,422" stroke-width="3"/><path d="M723,315 C723,312 726,311 729,313 L806,356 C810,359 812,362 812,366" stroke-width="2.4"/><path d="M723,315 L723,410 C723,417 727,422 733,424" stroke-width="2.4"/><path d="M739,326 L739,400 C739,410 744,417 753,419 L803,446" stroke-width="2"/><path d="M733,418 L742,414" stroke-width="2"/><path d="M757,433 L806,457" stroke-width="3"/><ellipse cx="784" cy="373" rx="13.5" ry="17" transform="rotate(-15 784 373)" stroke-width="3"/><ellipse cx="758.5" cy="343" rx="4" ry="4.5" stroke-width="2.4"/><ellipse cx="799" cy="411" rx="4" ry="5" stroke-width="3"/></g><path d="M799,360 L810,364 L810,378 L799,374 Z" fill="#000"/><path d="M742,326 L756,333 L756,342 L742,340 Z" fill="#000"/><path d="M742,328 l0,10 M748,330 l0,10" stroke="#fff" stroke-width="1.5"/><g transform="translate(825,195) scale(0.18359)"><g fill="none" stroke="#000" stroke-linecap="round" stroke-linejoin="round" stroke-width="2.8" vector-effect="non-scaling-stroke"><path vector-effect="non-scaling-stroke" d="M30,500 L160,900 L280,905 C300,965 340,995 400,990 C450,985 490,955 500,920 L860,720 L820,560 L770,310 L740,295" fill="#fff"/><path vector-effect="non-scaling-stroke" d="M90,520 L200,880"/><path vector-effect="non-scaling-stroke" d="M90,520 L150,470 L230,420"/><path vector-effect="non-scaling-stroke" d="M230,420 C280,375 330,385 365,430 C395,470 420,475 445,462"/><path vector-effect="non-scaling-stroke" d="M250,440 C300,480 350,515 410,515 L440,500"/><path vector-effect="non-scaling-stroke" d="M365,520 L480,890"/><path vector-effect="non-scaling-stroke" d="M395,515 L500,870"/><path vector-effect="non-scaling-stroke" d="M365,520 L445,462 L520,430"/><path vector-effect="non-scaling-stroke" d="M430,330 L490,560 L520,600 L545,800 L850,700"/><path vector-effect="non-scaling-stroke" d="M440,330 L600,270 L770,320"/><path vector-effect="non-scaling-stroke" d="M545,370 L620,330 L690,340 L740,520 L780,560"/><path vector-effect="non-scaling-stroke" d="M235,745 C200,720 205,640 250,625 C300,615 335,680 320,740 C310,770 285,780 260,770" stroke-width="3"/><path vector-effect="non-scaling-stroke" d="M190,470 C210,460 235,480 235,505 C235,525 215,530 200,520" stroke-width="3"/><path vector-effect="non-scaling-stroke" d="M320,880 C340,870 365,890 365,915 C365,935 345,940 330,930" stroke-width="3"/><ellipse vector-effect="non-scaling-stroke" cx="640" cy="650" rx="55" ry="65" stroke-width="3.6"/><path vector-effect="non-scaling-stroke" d="M600,640 C620,600 660,600 670,640" stroke-width="2.4"/><ellipse vector-effect="non-scaling-stroke" cx="690" cy="510" rx="35" ry="40" stroke-width="3.4"/><ellipse vector-effect="non-scaling-stroke" cx="698" cy="512" rx="15" ry="20" stroke-width="2.4"/><ellipse vector-effect="non-scaling-stroke" cx="570" cy="570" rx="35" ry="40" stroke-width="3.4"/><path vector-effect="non-scaling-stroke" d="M650,470 L720,450 L790,500 L760,540" stroke-width="2.6"/><path d="M32,505 L85,485 L205,878 L158,898 Z" fill="#000" stroke="none"/><path vector-effect="non-scaling-stroke" d="M50,510 L172,892 M66,503 L187,886" stroke="#fff" stroke-width="1.3"/><path vector-effect="non-scaling-stroke" d="M680,820 L760,790 L790,860 L745,910 L700,885 Z" stroke-width="3" fill="#fff"/><path vector-effect="non-scaling-stroke" d="M700,840 L770,815" stroke-width="2"/></g><path vector-effect="non-scaling-stroke" d="M250,215 C245,175 280,155 330,160 L420,170 M520,185 L610,195" fill="none" stroke="#000" stroke-width="2.8"/><path vector-effect="non-scaling-stroke" d="M120,405 L200,368 L225,395" fill="none" stroke="#000" stroke-width="2.8"/><ellipse cx="435" cy="62" rx="62" ry="42" transform="rotate(-12 435 62)" fill="#000"/><path d="M400,72 C420,58 450,52 470,55" stroke="#fff" stroke-width="10" fill="none"/><path d="M405,100 L482,82 L542,240 L470,272 Z" fill="#000"/><path d="M160,245 C170,215 215,205 260,210 L290,225 L340,230 C370,240 395,260 402,285 L392,322 L350,338 L310,332 L290,352 L250,372 L205,362 L190,322 L175,282 Z" fill="#000"/><path d="M195,245 L235,232 M300,345 L320,338" stroke="#fff" stroke-width="9"/><path d="M300,300 L420,290 L440,330 L430,370 L330,360 Z" fill="#000"/><path d="M345,372 L400,352 M360,408 L420,388" stroke="#fff" stroke-width="10"/><ellipse cx="690" cy="228" rx="72" ry="62" fill="#000"/><ellipse cx="668" cy="210" rx="45" ry="36" fill="#fff"/><path d="M600,262 L760,280 L752,320 L610,308 Z" fill="#000"/><path d="M28,498 L128,452 L145,418 L205,385 L225,402 L158,450 L142,482 L45,525 Z" fill="#000"/><path d="M490,345 L600,300 L690,318 L700,362 L620,352 L560,382 L525,440 L492,420 Z" fill="#000"/><path d="M400,350 L440,330 L460,380 L415,395 Z" fill="#000"/><path d="M420,380 L450,370 M425,420 L455,410" stroke="#fff" stroke-width="8"/></g><g class="ns" transform="translate(985,170) scale(0.13037)" fill="none" stroke="#000" stroke-linecap="round" stroke-linejoin="round"><path d="M50,90 C50,60 70,50 95,62 L570,315 C595,330 602,345 602,370 L602,935 C602,965 585,970 560,958 L75,690 C58,680 50,670 50,650 Z" stroke-width="3.6"/><ellipse cx="330" cy="510" rx="88" ry="125" transform="rotate(-18 330 510)" stroke-width="4.4"/><circle cx="220" cy="235" r="45" fill="#000" stroke="none"/><circle cx="200" cy="375" r="38" fill="#000" stroke="none"/><circle cx="190" cy="520" r="40" fill="#000" stroke="none"/><circle cx="460" cy="520" r="32" fill="#000" stroke="none"/><circle cx="215" cy="385" r="30" fill="#000" stroke="none"/><ellipse cx="430" cy="350" rx="40" ry="52" transform="rotate(-25 430 350)" stroke-width="3.6"/><ellipse cx="230" cy="670" rx="40" ry="52" transform="rotate(-25 230 670)" stroke-width="3.6"/><ellipse cx="440" cy="800" rx="40" ry="52" transform="rotate(-25 440 800)" stroke-width="3.6"/><circle cx="238" cy="217" r="8.3" fill="#000" stroke="none"/><circle cx="108" cy="540" r="6.8" fill="#000" stroke="none"/><circle cx="100" cy="516" r="5.2" fill="#000" stroke="none"/><circle cx="117" cy="447" r="9.1" fill="#000" stroke="none"/><circle cx="134" cy="278" r="8.1" fill="#000" stroke="none"/><circle cx="563" cy="575" r="7.0" fill="#000" stroke="none"/><circle cx="516" cy="333" r="5.7" fill="#000" stroke="none"/><circle cx="131" cy="349" r="9.1" fill="#000" stroke="none"/><circle cx="164" cy="579" r="8.2" fill="#000" stroke="none"/><circle cx="264" cy="550" r="5.3" fill="#000" stroke="none"/><circle cx="101" cy="263" r="8.4" fill="#000" stroke="none"/><circle cx="292" cy="354" r="7.9" fill="#000" stroke="none"/><circle cx="306" cy="342" r="9.0" fill="#000" stroke="none"/><circle cx="433" cy="295" r="7.9" fill="#000" stroke="none"/><circle cx="449" cy="332" r="9.9" fill="#000" stroke="none"/><circle cx="131" cy="441" r="8.8" fill="#000" stroke="none"/><circle cx="149" cy="501" r="5.2" fill="#000" stroke="none"/><circle cx="417" cy="732" r="7.9" fill="#000" stroke="none"/><circle cx="525" cy="354" r="8.5" fill="#000" stroke="none"/><circle cx="379" cy="577" r="7.3" fill="#000" stroke="none"/><circle cx="507" cy="884" r="7.4" fill="#000" stroke="none"/><circle cx="435" cy="634" r="10.0" fill="#000" stroke="none"/><circle cx="497" cy="329" r="6.9" fill="#000" stroke="none"/><circle cx="310" cy="231" r="5.6" fill="#000" stroke="none"/><circle cx="137" cy="298" r="7.0" fill="#000" stroke="none"/><circle cx="304" cy="552" r="9.4" fill="#000" stroke="none"/><circle cx="496" cy="816" r="6.4" fill="#000" stroke="none"/><circle cx="286" cy="391" r="9.4" fill="#000" stroke="none"/><circle cx="162" cy="285" r="6.2" fill="#000" stroke="none"/><circle cx="322" cy="585" r="6.3" fill="#000" stroke="none"/><circle cx="72" cy="442" r="6.8" fill="#000" stroke="none"/><circle cx="429" cy="523" r="8.1" fill="#000" stroke="none"/><circle cx="538" cy="745" r="9.4" fill="#000" stroke="none"/><circle cx="485" cy="420" r="7.0" fill="#000" stroke="none"/><circle cx="124" cy="623" r="5.3" fill="#000" stroke="none"/><circle cx="105" cy="265" r="5.8" fill="#000" stroke="none"/><circle cx="70" cy="217" r="5.5" fill="#000" stroke="none"/><circle cx="525" cy="606" r="5.7" fill="#000" stroke="none"/><circle cx="201" cy="382" r="6.8" fill="#000" stroke="none"/><circle cx="586" cy="481" r="7.4" fill="#000" stroke="none"/><circle cx="115" cy="176" r="6.7" fill="#000" stroke="none"/><circle cx="565" cy="534" r="5.7" fill="#000" stroke="none"/><circle cx="519" cy="675" r="6.3" fill="#000" stroke="none"/><circle cx="261" cy="230" r="8.9" fill="#000" stroke="none"/><circle cx="347" cy="744" r="6.6" fill="#000" stroke="none"/><circle cx="582" cy="806" r="9.0" fill="#000" stroke="none"/><circle cx="496" cy="711" r="6.1" fill="#000" stroke="none"/><circle cx="339" cy="389" r="5.1" fill="#000" stroke="none"/><circle cx="85" cy="325" r="6.3" fill="#000" stroke="none"/><circle cx="584" cy="892" r="6.8" fill="#000" stroke="none"/></g><g class="ns" transform="translate(1080,95) scale(0.15936)" fill="none" stroke="#000" stroke-linecap="round" stroke-linejoin="round" stroke-width="2.8"><path d="M55,185 L170,130 C200,110 250,70 300,50 C320,45 335,48 350,55 L655,245 C690,265 712,290 712,330 L700,850 L470,975 L215,850 L210,720 C180,690 150,650 140,620 L55,545 Z"/><path d="M80,195 L395,300" stroke-width="2.4"/><path d="M185,145 L400,250 M215,120 L420,235" stroke-width="2.4"/><path d="M395,300 L310,340 L320,470 C330,500 350,530 380,545 L480,590 L500,580" stroke-width="2.4"/><path d="M420,235 L420,400 C430,430 450,450 480,465 L580,520 L590,380 C585,330 560,300 520,280 L420,235" stroke-width="2.4"/><path d="M480,590 L465,970" stroke-width="2.2"/><path d="M605,320 L680,290" stroke-width="2.2"/><ellipse cx="490" cy="390" rx="25" ry="30" stroke-width="2.6"/><ellipse cx="180" cy="330" rx="35" ry="50" fill="#000" stroke="none"/><ellipse cx="335" cy="810" rx="40" ry="55" fill="#000" stroke="none"/><ellipse cx="255" cy="560" rx="45" ry="65" transform="rotate(-20 255 560)" stroke-width="3.4"/><path d="M355,575 C385,610 375,680 325,700 L265,700" stroke-width="5"/><path d="M262,690 C240,700 245,725 268,722" stroke-width="3"/><path d="M150,625 C170,655 190,690 200,720" stroke-width="3"/><path d="M490,390 L370,455 L560,545" stroke-width="2"/></g><line x1="1192.0" y1="270.5" x2="1236.0" y2="246.0" stroke="#000" stroke-width="12" stroke-linecap="round"/><line x1="1206.8" y1="264.1" x2="1205.8" y2="262.4" stroke="#fff" stroke-width="1.1"/><line x1="1209.9" y1="262.4" x2="1208.9" y2="260.6" stroke="#fff" stroke-width="1.1"/><line x1="1213.0" y1="260.6" x2="1212.1" y2="258.9" stroke="#fff" stroke-width="1.1"/><line x1="1216.2" y1="258.9" x2="1215.2" y2="257.1" stroke="#fff" stroke-width="1.1"/><line x1="1219.3" y1="257.1" x2="1218.4" y2="255.4" stroke="#fff" stroke-width="1.1"/><line x1="1222.5" y1="255.4" x2="1221.5" y2="253.6" stroke="#fff" stroke-width="1.1"/><line x1="1225.6" y1="253.6" x2="1224.7" y2="251.9" stroke="#fff" stroke-width="1.1"/><line x1="1228.8" y1="251.9" x2="1227.8" y2="250.1" stroke="#fff" stroke-width="1.1"/><line x1="1231.9" y1="250.1" x2="1230.9" y2="248.4" stroke="#fff" stroke-width="1.1"/><circle cx="1192" cy="270.5" r="12" fill="#000"/><path d="M1187,269.5 q4,-2 4,1 q0,2 -3,2 q4,1 3,4 q-1,2 -4,1" fill="none" stroke="#fff" stroke-width="1.6"/><line x1="1205.7" y1="266.3" x2="1203.3" y2="261.9" stroke="#fff" stroke-width="1.6"/><g class="ns" transform="translate(1210,35) scale(0.14493)" fill="none" stroke="#000" stroke-linecap="round" stroke-linejoin="round"><path d="M60,120 C60,70 90,40 140,45 L555,275 C590,295 605,320 605,360 L610,915 C610,960 590,975 560,960 L170,780 C100,745 65,700 65,640 Z" stroke-width="3.6"/><path d="M622,345 L630,920" stroke-width="1.8"/><ellipse cx="345" cy="510" rx="112" ry="68" transform="rotate(30 345 510)" stroke-width="3.6"/><circle cx="215" cy="250" r="42" fill="#000" stroke="none"/><circle cx="455" cy="395" r="40" fill="#000" stroke="none"/><circle cx="340" cy="370" r="28" fill="#000" stroke="none"/><circle cx="220" cy="650" r="42" fill="#000" stroke="none"/><circle cx="335" cy="680" r="30" fill="#000" stroke="none"/><circle cx="475" cy="795" r="38" fill="#000" stroke="none"/><circle cx="180" cy="345" r="9" fill="#000" stroke="none"/><circle cx="110" cy="420" r="9" fill="#000" stroke="none"/><circle cx="520" cy="300" r="9" fill="#000" stroke="none"/><circle cx="600" cy="600" r="9" fill="#000" stroke="none"/><circle cx="580" cy="700" r="9" fill="#000" stroke="none"/><circle cx="270" cy="800" r="9" fill="#000" stroke="none"/><circle cx="510" cy="760" r="9" fill="#000" stroke="none"/><circle cx="590" cy="520" r="9" fill="#000" stroke="none"/><circle cx="90" cy="600" r="9" fill="#000" stroke="none"/><circle cx="440" cy="920" r="9" fill="#000" stroke="none"/></g><line x1="1490.1" y1="418.2" x2="1512.0" y2="429.5" stroke="#000" stroke-width="11" stroke-linecap="round"/><line x1="1494.5" y1="420.5" x2="1510.7" y2="428.8" stroke="#fff" stroke-width="5" stroke-linecap="round"/><line x1="1494.1" y1="423.6" x2="1497.9" y2="418.8" stroke="#000" stroke-width="1.5"/><line x1="1496.9" y1="425.1" x2="1500.7" y2="420.3" stroke="#000" stroke-width="1.5"/><line x1="1499.7" y1="426.5" x2="1503.6" y2="421.8" stroke="#000" stroke-width="1.5"/><line x1="1502.6" y1="428.0" x2="1506.4" y2="423.2" stroke="#000" stroke-width="1.5"/><line x1="1505.4" y1="429.5" x2="1509.2" y2="424.7" stroke="#000" stroke-width="1.5"/><ellipse cx="1490.1" cy="418.2" rx="6.4" ry="10.2" transform="rotate(27 1490.1 418.2) rotate(-27 1490.1 418.2)" fill="#000"/><ellipse cx="1491.0" cy="418.6" rx="3.6" ry="7.199999999999999" fill="#fff"/><ellipse cx="1483.0" cy="414.5" rx="8" ry="12" fill="#000"/><path d="M1480,410.5 l1.5,2 M1479,414.5 l1.5,2" stroke="#fff" stroke-width="1.2"/><line x1="1374.6" y1="568.9" x2="1353.0" y2="577.5" stroke="#000" stroke-width="10" stroke-linecap="round"/><line x1="1369.9" y1="570.8" x2="1354.4" y2="576.9" stroke="#fff" stroke-width="4" stroke-linecap="round"/><line x1="1367.9" y1="568.4" x2="1369.0" y2="574.4" stroke="#000" stroke-width="1.5"/><line x1="1364.9" y1="569.6" x2="1366.0" y2="575.6" stroke="#000" stroke-width="1.5"/><line x1="1361.9" y1="570.7" x2="1363.0" y2="576.8" stroke="#000" stroke-width="1.5"/><line x1="1359.0" y1="571.9" x2="1360.1" y2="577.9" stroke="#000" stroke-width="1.5"/><line x1="1356.0" y1="573.1" x2="1357.1" y2="579.1" stroke="#000" stroke-width="1.5"/><ellipse cx="1374.6" cy="568.9" rx="6.4" ry="8.924999999999999" transform="rotate(158 1374.6 568.9) rotate(-158 1374.6 568.9)" fill="#000"/><ellipse cx="1373.6" cy="569.3" rx="3.6" ry="6.3" fill="#fff"/><ellipse cx="1382.0" cy="566.0" rx="8" ry="10.5" fill="#000"/><path d="M1379,562 l1.5,2 M1378,566 l1.5,2" stroke="#fff" stroke-width="1.2"/><g fill="none" stroke="#000" stroke-linecap="round" stroke-linejoin="round"><path d="M1537,432 L1614,392.5 C1619,390 1626,390 1631,392 L1743,454 C1750,458 1755,464 1755,472 L1754,608 C1754,614 1750,619 1745,621 L1709,639" stroke-width="3"/><path d="M1546,430 L1533,436 C1531,441 1531,445 1532,450 L1541,496 L1549,534 L1557,566 C1559,574 1564,582 1572,590" stroke-width="5.2"/><path d="M1540,442 L1548,490 L1556,530 L1563,562 C1566,572 1570,578 1576,584" stroke-width="1.6"/><path d="M1546,437 L1660,504" stroke-width="2"/><path d="M1550,443 C1547,446 1546,451 1547,455" stroke-width="4.5"/><rect x="1565" y="448" width="6" height="14" rx="3" stroke-width="2.6" transform="rotate(-10 1568 455)"/><path d="M1668,518 L1668,640" stroke-width="1.6"/><path d="M1572,590 L1572,614 L1665,661 L1668,656" stroke-width="2.8"/><path d="M1543,431 C1549,432 1554,436 1559,440 L1662,502 C1668,506 1671,512 1671,518 L1669,636" stroke-width="3"/><path d="M1545,432 L1602,463.5" stroke-width="4.5"/><path d="M1558,447 L1581,554 C1583,564 1587,571 1594,576 L1604,583 L1600,589 L1585,596 L1572,590" stroke-width="2.4"/><path d="M1677,505 L1745,470" stroke-width="2.4"/><path d="M1624.6,481 L1624.6,539 L1613,553 L1636,553 L1624.6,539" stroke-width="2"/><path d="M1572,577 L1613,553 M1636,553 L1668,571" stroke-width="2" stroke-dasharray="8,5"/><path d="M1658,647 L1668,635 L1685,632 L1710,648 L1697,679 L1686,673 L1683,658 Z" stroke-width="2.6"/><circle cx="1690" cy="671" r="3.5" stroke-width="2"/><circle cx="1567" cy="546" r="3" stroke-width="2"/><circle cx="1678" cy="623" r="3" stroke-width="2"/><path d="M1732,478 L1732,528 L1746,524 L1746,484" stroke-width="2.6"/></g><g transform="rotate(-28 1599.7 412)"><rect x="1582.7" y="407" width="33" height="10" rx="5" fill="#000"/><rect x="1587.7" y="410.7" width="7" height="2.8" rx="1.4" fill="#fff"/><rect x="1598.7" y="410.5" width="11" height="2.8" rx="1.4" fill="#fff"/></g><g transform="rotate(-28 1615.4 420.8)"><rect x="1598.4" y="415.8" width="33" height="10" rx="5" fill="#000"/><rect x="1603.4" y="419.5" width="7" height="2.8" rx="1.4" fill="#fff"/><rect x="1614.4" y="419.3" width="11" height="2.8" rx="1.4" fill="#fff"/></g><g transform="rotate(-28 1631.4 431)"><rect x="1614.4" y="426" width="33" height="10" rx="5" fill="#000"/><rect x="1619.4" y="429.7" width="7" height="2.8" rx="1.4" fill="#fff"/><rect x="1630.4" y="429.5" width="11" height="2.8" rx="1.4" fill="#fff"/></g><g transform="rotate(-28 1647.5 440)"><rect x="1630.5" y="435" width="33" height="10" rx="5" fill="#000"/><rect x="1635.5" y="438.7" width="7" height="2.8" rx="1.4" fill="#fff"/><rect x="1646.5" y="438.5" width="11" height="2.8" rx="1.4" fill="#fff"/></g><g transform="rotate(-28 1662.6 449.3)"><rect x="1645.6" y="444.3" width="33" height="10" rx="5" fill="#000"/><rect x="1650.6" y="448.0" width="7" height="2.8" rx="1.4" fill="#fff"/><rect x="1661.6" y="447.8" width="11" height="2.8" rx="1.4" fill="#fff"/></g><g transform="rotate(-28 1679 458.5)"><rect x="1662" y="453.5" width="33" height="10" rx="5" fill="#000"/><rect x="1667" y="457.2" width="7" height="2.8" rx="1.4" fill="#fff"/><rect x="1678" y="457.0" width="11" height="2.8" rx="1.4" fill="#fff"/></g><g transform="rotate(-28 1695 465.8)"><rect x="1678" y="460.8" width="33" height="10" rx="5" fill="#000"/><rect x="1683" y="464.5" width="7" height="2.8" rx="1.4" fill="#fff"/><rect x="1694" y="464.3" width="11" height="2.8" rx="1.4" fill="#fff"/></g><rect x="1688.3" y="515" width="9" height="32" rx="4.5" fill="none" stroke="#000" stroke-width="3.2" transform="rotate(2 1692.8 531)"/><path d="M1690.3999999999999,522 L1690.3999999999999,541" stroke="#000" stroke-width="2.2" transform="rotate(2 1692.8 531)"/><rect x="1705.5" y="506" width="9" height="32" rx="4.5" fill="none" stroke="#000" stroke-width="3.2" transform="rotate(2 1710 522)"/><path d="M1707.6,513 L1707.6,532" stroke="#000" stroke-width="2.2" transform="rotate(2 1710 522)"/><rect x="1704.2" y="555" width="9" height="32" rx="4.5" fill="none" stroke="#000" stroke-width="3.2" transform="rotate(2 1708.7 571)"/><path d="M1706.3,562 L1706.3,581" stroke="#000" stroke-width="2.2" transform="rotate(2 1708.7 571)"/><rect x="1720.1" y="547" width="9" height="32" rx="4.5" fill="none" stroke="#000" stroke-width="3.2" transform="rotate(2 1724.6 563)"/><path d="M1722.1999999999998,554 L1722.1999999999998,573" stroke="#000" stroke-width="2.2" transform="rotate(2 1724.6 563)"/><rect x="1736.1" y="539" width="9" height="32" rx="4.5" fill="none" stroke="#000" stroke-width="3.2" transform="rotate(2 1740.6 555)"/><path d="M1738.1999999999998,546 L1738.1999999999998,565" stroke="#000" stroke-width="2.2" transform="rotate(2 1740.6 555)"/><rect x="1702.5" y="602" width="9" height="32" rx="4.5" fill="none" stroke="#000" stroke-width="3.2" transform="rotate(2 1707 618)"/><path d="M1704.6,609 L1704.6,628" stroke="#000" stroke-width="2.2" transform="rotate(2 1707 618)"/><rect x="1718.5" y="593" width="9" height="32" rx="4.5" fill="none" stroke="#000" stroke-width="3.2" transform="rotate(2 1723 609)"/><path d="M1720.6,600 L1720.6,619" stroke="#000" stroke-width="2.2" transform="rotate(2 1723 609)"/><rect x="1736.1" y="586" width="9" height="32" rx="4.5" fill="none" stroke="#000" stroke-width="3.2" transform="rotate(2 1740.6 602)"/><path d="M1738.1999999999998,593 L1738.1999999999998,612" stroke="#000" stroke-width="2.2" transform="rotate(2 1740.6 602)"/><rect x="1579.5" y="468" width="9" height="32" rx="4.5" fill="none" stroke="#000" stroke-width="3.2" transform="rotate(2 1584 484)"/><path d="M1581.6,475 L1581.6,494" stroke="#000" stroke-width="2.2" transform="rotate(2 1584 484)"/><rect x="1594.1" y="465" width="9" height="32" rx="4.5" fill="none" stroke="#000" stroke-width="3.2" transform="rotate(2 1598.6 481)"/><path d="M1596.1999999999998,472 L1596.1999999999998,491" stroke="#000" stroke-width="2.2" transform="rotate(2 1598.6 481)"/><rect x="1579.5" y="512" width="9" height="32" rx="4.5" fill="none" stroke="#000" stroke-width="3.2" transform="rotate(2 1584 528)"/><path d="M1581.6,519 L1581.6,538" stroke="#000" stroke-width="2.2" transform="rotate(2 1584 528)"/><rect x="1595.5" y="506" width="9" height="32" rx="4.5" fill="none" stroke="#000" stroke-width="3.2" transform="rotate(2 1600 522)"/><path d="M1597.6,513 L1597.6,532" stroke="#000" stroke-width="2.2" transform="rotate(2 1600 522)"/><rect x="1640.5" y="506" width="9" height="32" rx="4.5" fill="none" stroke="#000" stroke-width="3.2" transform="rotate(2 1645 522)"/><path d="M1642.6,513 L1642.6,532" stroke="#000" stroke-width="2.2" transform="rotate(2 1645 522)"/><rect x="1654.9" y="512" width="9" height="32" rx="4.5" fill="none" stroke="#000" stroke-width="3.2" transform="rotate(2 1659.4 528)"/><path d="M1657.0,519 L1657.0,538" stroke="#000" stroke-width="2.2" transform="rotate(2 1659.4 528)"/><g class="ns" transform="translate(1280,550) scale(0.14493)" fill="none" stroke="#000" stroke-linecap="round" stroke-linejoin="round"><path d="M100,200 L770,590 C795,605 803,625 803,650 L803,915 C803,945 785,955 760,942 L110,600 C75,580 52,550 52,510 L50,250 C50,215 70,195 100,200 Z" stroke-width="3"/><path d="M110,210 L230,262 M470,450 L780,600" stroke-width="5.5"/><path d="M225,262 C235,240 270,225 300,240 L530,375 C555,390 562,410 560,460" stroke-width="3"/><path d="M230,272 L520,430" stroke-width="6"/><path d="M200,365 L610,608 C630,620 640,635 640,655 L640,815 C640,830 630,835 615,828 L205,590 C188,580 180,565 180,550 L180,385 C180,368 188,360 200,365 Z" stroke-width="3"/><path d="M300,450 L420,520 L420,630 L340,670 M420,520 L620,630 M420,630 L620,740 M200,520 L300,460" stroke-width="2.2"/><circle cx="120" cy="410" r="20" stroke-width="2.6"/><circle cx="700" cy="760" r="20" stroke-width="2.6"/></g><g fill="none" stroke="#000" stroke-linecap="round" stroke-linejoin="round"><path d="M1222,623 L1318,674 C1322,676 1325,680 1325,685 L1325,715 C1325,721 1322,723 1317,721 L1221,668 C1217,665 1216,662 1216,657 L1216,628 C1216,624 1218,622 1222,623 Z" stroke-width="3"/><path d="M1222,623 L1318,674" stroke-width="5"/><path d="M1242,646 L1296,677 C1299,679 1300,681 1300,684 L1300,699 C1300,701 1298,702 1296,701 L1242,670 C1240,669 1239.5,667 1239.5,665 L1239.5,649 C1239.5,647 1240,646 1242,646 Z" stroke-width="4.4"/></g><circle cx="1225.5" cy="646.5" r="3.5" fill="#000"/><circle cx="1312" cy="697" r="3.5" fill="#000"/><path d="M1188,683 C1188,685 1190,706 1204,712 L1206,680 L1192,674 C1189,673 1188,676 1188,683 Z" fill="url(#stip)"/><path d="M1230,704 L1246,712 L1246,732 C1246,735 1244,736 1241,734 L1230,728 Z" fill="url(#stip)"/><path d="M1190,673 L1244,704 C1248,707 1248,710 1248,714 L1247,731 C1247,736 1244,737 1240,735 L1189,706 C1186,704 1185,701 1185,697 L1185,678 C1185,674 1187,672 1190,673 Z" fill="none" stroke="#000" stroke-width="4" stroke-linejoin="round"/><g class="ns" transform="translate(1060,675) scale(0.24155)" fill="none" stroke="#000" stroke-linecap="round" stroke-linejoin="round" stroke-width="3"><path d="M30,130 C30,90 60,58 100,50 C120,45 140,40 160,45 L600,300 C625,315 640,345 640,380 L640,480 L690,500 L690,850 L600,905 L500,980 C470,995 430,1000 400,985 L120,830 C80,805 40,760 35,690 Z"/><path d="M70,62 L530,305 C565,325 580,360 580,400 L572,940" stroke-width="4.2"/><path d="M110,45 L560,300 C595,320 610,350 610,390 L608,915" stroke-width="3"/><path d="M150,38 L620,310" stroke-width="2.4"/><path d="M40,150 L45,690" stroke-width="2"/><path d="M430,470 L420,990" stroke-width="2"/><path d="M80,205 L210,265" stroke-width="2.2"/><path d="M250,165 L250,260 L500,390 L500,300 M270,330 L500,440" stroke-width="2.2" stroke-dasharray="14,9"/><path d="M40,470 C60,440 100,430 150,450 L320,540 C380,580 400,640 390,700 C380,770 330,800 270,790 L120,740 C60,720 40,690 40,650" stroke-width="2.6"/><path d="M330,545 C375,570 390,620 385,690" stroke-width="2.4"/><path d="M90,430 L240,500 M200,520 L290,560" stroke-width="2.2"/><path d="M90,565 C90,548 105,543 122,552 L240,620 L215,668 L102,606 C92,600 89,590 90,565 Z" stroke-width="4.2"/><path d="M120,602 L222,655 M155,595 L180,642" stroke-width="2"/><circle cx="270" cy="645" r="22" stroke-width="3.4"/><ellipse cx="90" cy="690" rx="15" ry="20" fill="#000" stroke="none"/><ellipse cx="232" cy="700" rx="13" ry="16" fill="#000" stroke="none"/><path d="M40,80 C55,62 80,55 100,55" stroke-width="6"/><path d="M560,930 L590,920" stroke-width="6"/></g><ellipse cx="1251.5" cy="764.8" rx="9.6" ry="11.6" transform="rotate(-20 1251.5 764.8)" fill="none" stroke="#000" stroke-width="3.8"/><ellipse cx="1251.8" cy="766.4" rx="4.6" ry="5.6" transform="rotate(-20 1251.8 766.4)" fill="#000"/><circle cx="1252.5" cy="766" r="1" fill="#fff"/><ellipse cx="1287" cy="746" rx="12" ry="12.5" fill="none" stroke="#000" stroke-width="3"/><ellipse cx="1284.5" cy="747.5" rx="6.5" ry="7.8" transform="rotate(-20 1284.5 747.5)" fill="none" stroke="#000" stroke-width="2.4"/><ellipse cx="1284.2" cy="748" rx="4" ry="5" transform="rotate(-20 1284.2 748)" fill="#000"/><path d="M1280,737 C1285,733 1292,736 1296,740 M1290,748 C1293,746 1296,745 1298,744 M1292,757 L1291,749 M1298,742 L1298,756" fill="none" stroke="#000" stroke-width="1.8"/><g fill="none" stroke="#000" stroke-linecap="round" stroke-linejoin="round"><path d="M973,926 L973,843 C973,836 977,831 984,831 L1039,863 C1045,867 1048,872 1048,880 L1048,962 C1048,967 1045,968 1041,967 Z" stroke-width="3"/><path d="M984,831 L1039,863" stroke-width="4.2"/><path d="M986,857 C986,851 990,850 995,853 L1024,870 L1018,885 L990,870 C987,868 986,865 986,862 Z" stroke-width="3.6"/><ellipse cx="1034" cy="880" rx="4.5" ry="5.5" stroke-width="2.6"/><path d="M1021,889 C1022,894 1026,896 1028,890" stroke-width="2.6"/></g><path d="M985,890 L994,886 L998,898 L990,900 Z" fill="#000"/><line x1="829.5" y1="985.5" x2="947.5" y2="925.5" stroke="#000" stroke-width="12.5" stroke-linecap="round"/><line x1="856.2" y1="971.9" x2="926.1" y2="936.4" stroke="#fff" stroke-width="7"/><line x1="856.2" y1="971.9" x2="856.2" y2="971.9" stroke="#000" stroke-width="2"/><line x1="834.4" y1="986.4" x2="833.0" y2="980.3" stroke="#fff" stroke-width="1.6"/><line x1="838.9" y1="984.1" x2="837.5" y2="978.1" stroke="#fff" stroke-width="1.6"/><line x1="843.3" y1="981.8" x2="842.0" y2="975.8" stroke="#fff" stroke-width="1.6"/><line x1="847.8" y1="979.6" x2="846.4" y2="973.5" stroke="#fff" stroke-width="1.6"/><line x1="852.3" y1="977.3" x2="850.9" y2="971.3" stroke="#fff" stroke-width="1.6"/><line x1="931.0" y1="937.2" x2="929.6" y2="931.2" stroke="#fff" stroke-width="1.6"/><line x1="935.5" y1="935.0" x2="934.1" y2="928.9" stroke="#fff" stroke-width="1.6"/><line x1="939.9" y1="932.7" x2="938.6" y2="926.7" stroke="#fff" stroke-width="1.6"/><line x1="944.4" y1="930.4" x2="943.0" y2="924.4" stroke="#fff" stroke-width="1.6"/><ellipse cx="831.3" cy="984.6" rx="2" ry="4" transform="rotate(-27 831.3 984.6)" fill="#fff"/><text x="1640.7" y="1020" font-family="Liberation Serif, serif" font-size="36" textLength="128.5" lengthAdjust="spacingAndGlyphs"><tspan fill="#4a6cc3">m</tspan><tspan fill="#53b043">o</tspan><tspan fill="#e668a8">t</tspan><tspan fill="#1fa444">o</tspan><tspan fill="#e8531a">r</tspan><tspan fill="#f3a31b">u</tspan><tspan fill="#f5d01e">f</tspan></text><text x="1769.5" y="1020" font-family="Liberation Serif, serif" font-size="19" fill="#333" textLength="19" lengthAdjust="spacingAndGlyphs">.de</text>
</svg>
</body></html>
